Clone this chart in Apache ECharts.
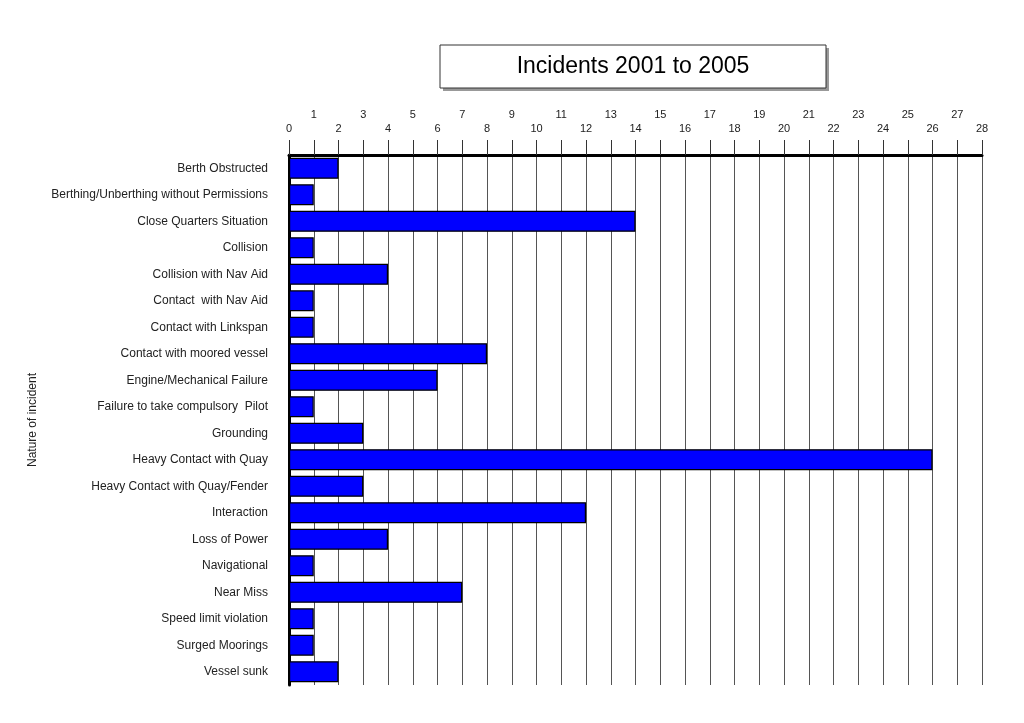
<!DOCTYPE html>
<html>
<head>
<meta charset="utf-8">
<script src="https://cdn.jsdelivr.net/npm/echarts@6/dist/echarts.min.js"></script>
<style>
html, body { margin: 0; padding: 0; background: #fff; }
#chart { width: 1024px; height: 723px; }
</style>
</head>
<body>
<div id="chart"></div>
<script>
var categories = [
    'Berth Obstructed',
    'Berthing/Unberthing without Permissions',
    'Close Quarters Situation',
    'Collision',
    'Collision with Nav Aid',
    'Contact  with Nav Aid',
    'Contact with Linkspan',
    'Contact with moored vessel',
    'Engine/Mechanical Failure',
    'Failure to take compulsory  Pilot',
    'Grounding',
    'Heavy Contact with Quay',
    'Heavy Contact with Quay/Fender',
    'Interaction',
    'Loss of Power',
    'Navigational',
    'Near Miss',
    'Speed limit violation',
    'Surged Moorings',
    'Vessel sunk'
];
var counts = [2, 1, 14, 1, 4, 1, 1, 8, 6, 1, 3, 26, 3, 12, 4, 1, 7, 1, 1, 2];

var myChart = echarts.init(document.getElementById('chart'));

var font = 'Liberation Sans, Arial, sans-serif';

// top axis: even labels on the lower row, odd labels on the upper row
function topAxis(showOdd) {
    return {
        type: 'value',
        position: 'top',
        min: 0,
        max: 28,
        interval: 1,
        axisLine: { show: !showOdd, onZero: false, lineStyle: { color: '#000', width: 3 } },
        axisTick: { show: !showOdd, length: 15, lineStyle: { color: '#333', width: 1 } },
        splitLine: { show: !showOdd, lineStyle: { color: '#555', width: 1 } },
        axisLabel: {
            margin: showOdd ? 35 : 21,
            fontFamily: font,
            fontSize: 11,
            color: '#222',
            formatter: function (v) {
                return (v % 2 === 1) === showOdd ? String(v) : '';
            }
        }
    };
}

option = {
    animation: false,
    backgroundColor: '#fff',
    grid: {
        left: 289,
        right: 42,
        top: 155,
        bottom: 38
    },
    graphic: [
        // title box shadow
        {
            type: 'rect',
            shape: { x: 443, y: 48, width: 386, height: 43 },
            style: { fill: '#999' }
        },
        {
            type: 'rect',
            shape: { x: 440, y: 45, width: 386, height: 43 },
            style: { fill: '#fff', stroke: '#333', lineWidth: 1 }
        },
        {
            type: 'text',
            x: 633,
            y: 67,
            style: {
                text: 'Incidents 2001 to 2005',
                fontFamily: font,
                fontSize: 23,
                fill: '#000',
                align: 'center',
                verticalAlign: 'middle'
            }
        }
    ],
    xAxis: [topAxis(false), topAxis(true)],
    yAxis: {
        type: 'category',
        inverse: true,
        data: categories,
        name: 'Nature of incident',
        nameLocation: 'middle',
        nameGap: 250,
        nameRotate: 90,
        nameTextStyle: { fontFamily: font, fontSize: 12, color: '#222' },
        axisLine: { lineStyle: { color: '#000', width: 3 } },
        axisTick: { alignWithLabel: true, length: 7, lineStyle: { color: '#333' } },
        axisLabel: { margin: 21, fontFamily: font, fontSize: 12, color: '#222' },
        splitLine: { show: false }
    },
    series: [
        {
            type: 'bar',
            xAxisIndex: 0,
            data: counts,
            barWidth: 21,
            itemStyle: {
                color: '#0000ff',
                borderColor: '#000',
                borderWidth: 1.2
            }
        }
    ]
};

myChart.setOption(option);
</script>
</body>
</html>
